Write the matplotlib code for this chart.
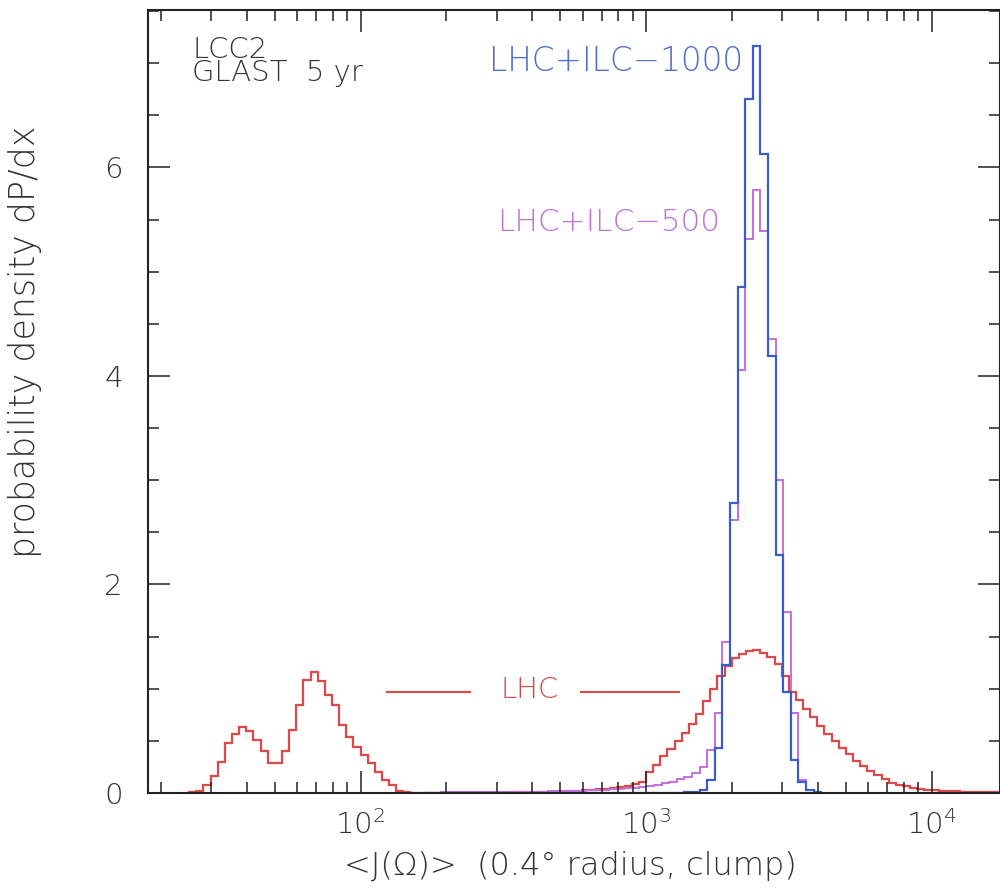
import numpy as np
import matplotlib
matplotlib.use("Agg")
import matplotlib.pyplot as plt
from matplotlib.ticker import LogLocator, MultipleLocator, NullFormatter, FixedLocator

plt.rcParams['font.family'] = ['DejaVu Sans']
plt.rcParams['font.weight'] = 'light'
plt.rcParams['mathtext.fontset'] = 'dejavusans'

# LHC histogram: bins of 0.025 in log10, first edge at log10 = 1.4
lhc_log_start = 1.4
lhc_log_width = 0.025
lhc = [
    0.005, 0.02, 0.08, 0.16, 0.30, 0.48, 0.57, 0.63, 0.59, 0.51,
    0.40, 0.29, 0.29, 0.40, 0.60, 0.84, 1.08, 1.16, 1.07, 0.94,
    0.84, 0.65, 0.54, 0.44, 0.36, 0.29, 0.20, 0.12, 0.08, 0.02,
    0.005, 0.0, 0.0, 0.0, 0.0, 0.0, 0.0, 0.0, 0.0, 0.0,
    0.0, 0.003, 0.003, 0.004, 0.004, 0.005, 0.005, 0.006, 0.007, 0.008,
    0.01, 0.012, 0.015, 0.018, 0.02, 0.025, 0.03, 0.035, 0.04, 0.045,
    0.055, 0.07, 0.09, 0.11, 0.20, 0.27, 0.35, 0.42, 0.50, 0.58,
    0.66, 0.76, 0.88, 1.00, 1.12, 1.22, 1.29, 1.33, 1.36, 1.37,
    1.34, 1.30, 1.24, 1.12, 0.97, 0.89, 0.81, 0.73, 0.64, 0.57,
    0.50, 0.43, 0.37, 0.31, 0.26, 0.21, 0.17, 0.13, 0.10, 0.08,
    0.065, 0.05, 0.04, 0.033, 0.027, 0.022, 0.018, 0.015, 0.012, 0.01,
    0.008, 0.007, 0.006, 0.005, 0.004,
]

# LHC+ILC histograms: bins of 0.0266 in log10
ilc_log_start = 3.2942 - 40 * 0.0266
ilc_log_width = 0.0266
ilc500 = [
    0.003, 0.004, 0.005, 0.005, 0.006, 0.006, 0.007, 0.007, 0.008, 0.008,
    0.009, 0.010, 0.011, 0.012, 0.013, 0.014, 0.015, 0.017, 0.019, 0.020,
    0.022, 0.025, 0.028, 0.032, 0.036, 0.040, 0.045, 0.052, 0.060, 0.070,
    0.080, 0.095, 0.11, 0.13, 0.15, 0.19, 0.25, 0.41, 0.77, 1.45,
    2.62, 4.06, 5.31, 5.78, 5.39, 4.35, 3.00, 1.74, 0.77, 0.12,
    0.03, 0.01,
]
ilc1000 = [
    0.0, 0.0, 0.0, 0.0, 0.0, 0.0, 0.0, 0.0, 0.0, 0.0,
    0.0, 0.0, 0.0, 0.0, 0.0, 0.0, 0.0, 0.0, 0.0, 0.0,
    0.0, 0.0, 0.0, 0.0, 0.0, 0.001, 0.001, 0.001, 0.002, 0.002,
    0.002, 0.003, 0.003, 0.004, 0.005, 0.01, 0.03, 0.12, 0.43, 1.23,
    2.78, 4.85, 6.66, 7.16, 6.13, 4.19, 2.28, 0.97, 0.32, 0.11,
    0.03, 0.01,
]

red = '#e04848'
purple = '#c86ee0'
blue = '#3a5ccc'
txt = '#333333'

fig = plt.figure(figsize=(10, 8.91), dpi=100)
ax = fig.add_axes([0.148, 0.11, 0.8515, 0.8788])

lhc_edges = 10 ** (lhc_log_start + lhc_log_width * np.arange(len(lhc) + 1))
ilc_edges = 10 ** (ilc_log_start + ilc_log_width * np.arange(len(ilc500) + 1))

ax.stairs(lhc, lhc_edges, color=red, lw=1.6)
ax.stairs(ilc500, ilc_edges, color=purple, lw=1.4)
ax.stairs(ilc1000, ilc_edges, color=blue, lw=1.6)

ax.set_xscale('log')
ax.set_xlim(10 ** 1.2557, 10 ** 4.238)
ax.set_ylim(0, 7.51)

ax.xaxis.set_major_locator(FixedLocator([1e2, 1e3, 1e4]))
ax.xaxis.set_minor_locator(LogLocator(base=10, subs=np.arange(2, 10), numticks=20))
ax.xaxis.set_minor_formatter(NullFormatter())
ax.set_xticklabels(['$10^{2}$', '$10^{3}$', '$10^{4}$'])
ax.yaxis.set_major_locator(MultipleLocator(2))
ax.yaxis.set_minor_locator(MultipleLocator(0.5))

ax.tick_params(which='both', direction='in', top=True, right=True, color='#222222', width=1.1)
ax.tick_params(which='major', length=16, labelsize=21, labelcolor=txt)
ax.tick_params(axis='x', which='major', pad=12)
ax.tick_params(axis='y', which='major', pad=18)
ax.tick_params(which='minor', length=8)
for s in ax.spines.values():
    s.set_linewidth(1.5)
    s.set_color('#222222')

ax.text(0.052, 0.967, 'LCC2\nGLAST  5 yr', transform=ax.transAxes, fontsize=21,
        color=txt, va='top', ha='left', linespacing=0.8)
ax.text(0.401, 0.934, 'LHC+ILC\u22121000', transform=ax.transAxes, fontsize=23.5,
        color='#5070c8', va='center', ha='left')
ax.text(0.41, 0.729, 'LHC+ILC\u2212500', transform=ax.transAxes, fontsize=22.5,
        color='#c070d8', va='center', ha='left')
ax.text(0.448, 0.131, 'LHC', transform=ax.transAxes, fontsize=21,
        color='#d84848', va='center', ha='center')
ax.plot([0.2805, 0.378], [0.129, 0.129], transform=ax.transAxes, color=red, lw=1.5)
ax.plot([0.509, 0.624], [0.129, 0.129], transform=ax.transAxes, color=red, lw=1.5)

fig.text(0.025, 1 - 342 / 891, 'probability density dP/dx', rotation=90,
         fontsize=25, color=txt, ha='center', va='center')
fig.text(0.57, 1 - 866 / 891, '<J(\u03a9)>  (0.4\u00b0 radius, clump)',
         fontsize=23, color=txt, ha='center', va='center')

fig.savefig('out.png', dpi=100)
